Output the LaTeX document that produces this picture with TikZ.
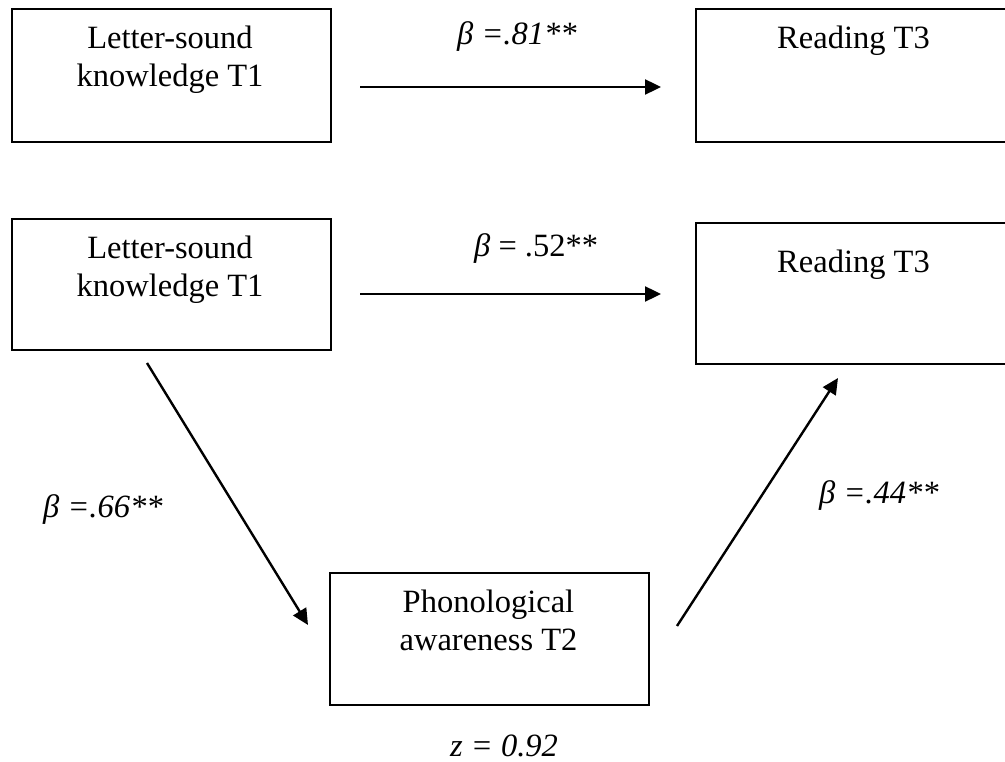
\documentclass[tikz,border=0pt]{standalone}
\usepackage{fontspec}
\setmainfont{Liberation Serif}
\usetikzlibrary{arrows.meta}
\begin{document}
\begin{tikzpicture}[x=1pt,y=-1pt,
  box/.style={draw, line width=2.3pt, inner sep=0pt, anchor=north west},
  txt/.style={inner sep=0pt, align=center, font=\fontsize{32.5}{37.8}\selectfont},
  lbl/.style={inner sep=0pt, anchor=base west, font=\fontsize{32.5}{37.8}\selectfont\itshape},
  conn/.style={line width=2.4pt, -{Triangle[length=16pt,width=15pt]}}]
\useasboundingbox (0,0) rectangle (1005,762);
% boxes
\node[box, minimum width=319pt, minimum height=133pt] (A) at (11,8) {};
\node[box, minimum width=313pt, minimum height=133pt] (B) at (695,8) {};
\node[box, minimum width=319pt, minimum height=131pt] (C) at (11,218) {};
\node[box, minimum width=313pt, minimum height=141pt] (D) at (695,222) {};
\node[box, minimum width=319pt, minimum height=132pt] (E) at (329,572) {};
% box texts
\node[txt, anchor=north] (At) at (170,25.8) {Letter-sound\\knowledge T1};
\node[txt, anchor=base] (Bt) at (853.5,49) {Reading T3};
\node[txt, anchor=north] (Ct) at (170,235.8) {Letter-sound\\knowledge T1};
\node[txt, anchor=base] (Dt) at (853.5,273) {Reading T3};
\node[txt, anchor=north] (Et) at (488.5,589.8) {Phonological\\awareness T2};
% connector end points
\coordinate (a1) at (360,87);
\coordinate (b1) at (661,87);
\coordinate (a2) at (360,294);
\coordinate (b2) at (661,294);
\coordinate (a3) at (147,363);
\coordinate (b3) at (308,625);
\coordinate (a4) at (677,626);
\coordinate (b4) at (838,378);
\draw[conn] (a1) -- (b1);
\draw[conn] (a2) -- (b2);
\draw[conn] (a3) -- (b3);
\draw[conn] (a4) -- (b4);
% labels
\node[lbl] (l1) at (457,45) {β =.81**};
\node[lbl] (l2) at (474,257) {β\upshape{} = .52**};
\node[lbl] (l3) at (43,517) {β =.66**};
\node[lbl] (l4) at (819,503) {β =.44**};
\node[lbl] (l5) at (450,756) {z = 0.92};
\end{tikzpicture}
\end{document}
